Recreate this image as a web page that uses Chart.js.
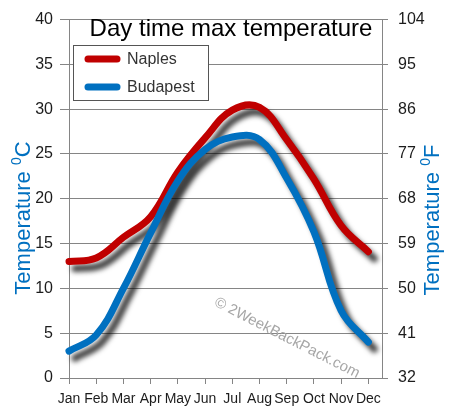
<!DOCTYPE html>
<html>
<head>
<meta charset="utf-8">
<script src="https://cdn.jsdelivr.net/npm/chart.js@4"></script>
<style>
  body { margin: 0; background: #fff; }
  canvas { display: block; }
</style>
</head>
<body>
<canvas id="chart" width="449" height="420"></canvas>
<script>
const months = ['Jan', 'Feb', 'Mar', 'Apr', 'May', 'Jun', 'Jul', 'Aug', 'Sep', 'Oct', 'Nov', 'Dec'];
const naples = [13.0, 13.4, 15.7, 18.0, 23.0, 26.8, 29.9, 30.2, 26.6, 22.2, 17.0, 14.1];
const budapest = [3.0, 4.8, 10.0, 16.2, 22.0, 25.5, 26.9, 26.6, 22.3, 16.3, 7.5, 4.0];
const celsiusRange = [0, 40, 5];
const fahrenheitRange = [32, 104, 9];

const BLUE = '#0070c0';
const RED = '#c00000';
const GRID = '#858585';
const TEXT = '#1c1c1c';
const numFont = { family: 'Liberation Sans, sans-serif', size: 16 };

// narrow face for the month labels if it is installed
function hasFont(name) {
  const c = document.createElement('canvas').getContext('2d');
  c.font = '20px monospace';
  const a = c.measureText('JanFebMarWww').width;
  c.font = `20px '${name}', monospace`;
  return c.measureText('JanFebMarWww').width !== a;
}
const monthFont = hasFont('Liberation Sans Narrow')
  ? { family: "'Liberation Sans Narrow', sans-serif", size: 16 }
  : { family: 'Liberation Sans, sans-serif', size: 14 };

// title, legend, watermark, axis titles and line shadows
const decor = {
  id: 'decor',
  beforeDatasetsDraw(chart) {
    const ctx = chart.ctx;
    ctx.save();
    ctx.translate(287, 338);
    ctx.rotate(27 * Math.PI / 180);
    ctx.font = '15px Liberation Sans, sans-serif';
    ctx.fillStyle = '#a6a6a6';
    ctx.textAlign = 'center';
    ctx.textBaseline = 'middle';
    ctx.fillText('\u00a9 2WeekBackPack.com', 0, 0);
    ctx.restore();
  },
  beforeDatasetDraw(chart) {
    const ctx = chart.ctx;
    ctx.save();
    ctx.shadowColor = 'rgba(0,0,0,0.75)';
    ctx.shadowBlur = 5;
    ctx.shadowOffsetX = 6;
    ctx.shadowOffsetY = 7;
  },
  afterDatasetDraw(chart) {
    chart.ctx.restore();
  },
  afterDraw(chart) {
    const ctx = chart.ctx;
    ctx.save();
    // title
    ctx.font = '24px Liberation Sans, sans-serif';
    ctx.fillStyle = '#000';
    ctx.textAlign = 'center';
    ctx.textBaseline = 'middle';
    ctx.fillText('Day time max temperature', 231, 29);

    // legend
    ctx.fillStyle = '#fff';
    ctx.fillRect(73.5, 45.5, 135, 55);
    ctx.strokeStyle = '#555';
    ctx.lineWidth = 1;
    ctx.strokeRect(73.5, 45.5, 135, 55);
    ctx.lineCap = 'round';
    ctx.lineWidth = 7;
    ctx.font = '16px Liberation Sans, sans-serif';
    ctx.textAlign = 'left';
    chart.data.datasets.forEach((ds, i) => {
      const y = 59 + i * 28;
      ctx.strokeStyle = ds.borderColor;
      ctx.beginPath();
      ctx.moveTo(88, y);
      ctx.lineTo(117, y);
      ctx.stroke();
      ctx.fillStyle = '#333';
      ctx.fillText(ds.label, 127, y + 1);
    });

    // axis titles
    const axisTitle = (cx, cy, unit) => {
      ctx.save();
      ctx.translate(cx, cy);
      ctx.rotate(-Math.PI / 2);
      ctx.fillStyle = BLUE;
      ctx.textAlign = 'left';
      ctx.textBaseline = 'alphabetic';
      const big = '22px Liberation Sans, sans-serif';
      const small = '14px Liberation Sans, sans-serif';
      ctx.font = big;
      const w1 = ctx.measureText('Temperature ').width;
      const w3 = ctx.measureText(unit).width;
      ctx.font = small;
      const w2 = ctx.measureText('0').width;
      let x = -(w1 + w2 + w3) / 2;
      ctx.font = big;
      ctx.fillText('Temperature ', x, 0);
      x += w1;
      ctx.font = small;
      ctx.fillText('0', x, -9);
      x += w2;
      ctx.font = big;
      ctx.fillText(unit, x, 0);
      ctx.restore();
    };
    axisTitle(30, 218, 'C');
    axisTitle(439, 220, 'F');
    ctx.restore();
  },
};

const line = (label, values, color, order) => ({
  label,
  data: values.map((v, i) => ({ x: i, y: v })),
  borderColor: color,
  backgroundColor: color,
  borderWidth: 7,
  borderCapStyle: 'round',
  borderJoinStyle: 'round',
  tension: 0.4,
  pointRadius: 0,
  clip: false,
  order,
});

new Chart(document.getElementById('chart'), {
  type: 'line',
  data: {
    datasets: [
      line('Naples', naples, RED, 2),
      line('Budapest', budapest, BLUE, 1),
    ],
  },
  plugins: [decor],
  options: {
    responsive: false,
    animation: false,
    layout: { padding: { top: 14, left: 0, right: 0, bottom: 0 } },
    plugins: {
      legend: { display: false },
      tooltip: { enabled: false },
    },
    scales: {
      x: {
        type: 'linear',
        min: 0,
        max: 11.5,
        afterBuildTicks: (scale) => { scale.ticks = months.map((m, i) => ({ value: i })); },
        afterFit: (scale) => { scale.height = 42; },
        ticks: {
          callback: (v) => months[v],
          font: monthFont,
          color: TEXT,
          padding: 7,
          maxRotation: 0,
          autoSkip: false,
        },
        grid: { drawOnChartArea: false, color: GRID, tickLength: 6 },
        border: { color: GRID },
      },
      y: {
        position: 'left',
        min: celsiusRange[0],
        max: celsiusRange[1],
        afterFit: (scale) => { scale.width = 69; },
        ticks: { stepSize: celsiusRange[2], font: numFont, color: TEXT, padding: 7 },
        grid: { color: GRID, tickLength: 9 },
        border: { color: GRID },
      },
      yF: {
        position: 'right',
        min: fahrenheitRange[0],
        max: fahrenheitRange[1],
        afterFit: (scale) => { scale.width = 67; },
        ticks: { stepSize: fahrenheitRange[2], font: numFont, color: TEXT, padding: 10 },
        grid: { drawOnChartArea: false, color: GRID, tickLength: 6 },
        border: { color: GRID },
      },
    },
  },
});
</script>
</body>
</html>
